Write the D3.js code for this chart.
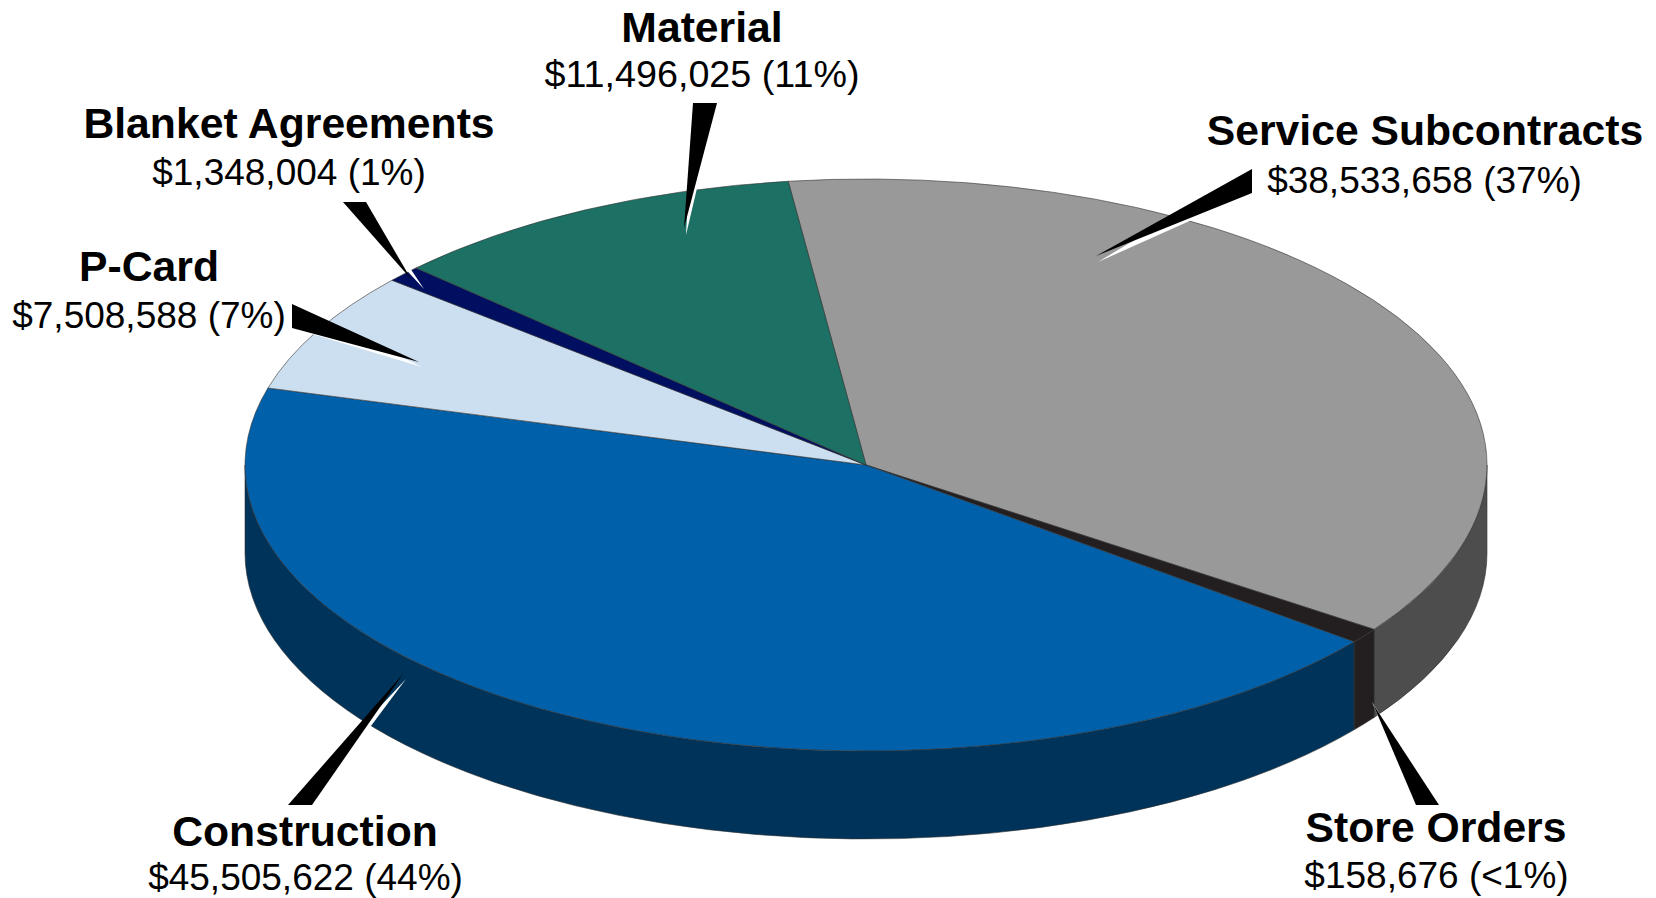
<!DOCTYPE html>
<html>
<head>
<meta charset="utf-8">
<script src="https://cdn.jsdelivr.net/npm/d3@7"></script>
<style>
  html, body { margin: 0; padding: 0; background: #fff; }
  svg { display: block; }
  text { font-family: "Liberation Sans", Arial, sans-serif; fill: #000; text-anchor: middle; }
  .name { font-weight: bold; font-size: 42.7px; }
  .amount { font-size: 37px; }
</style>
</head>
<body>
<div id="chart"></div>
<script>
// clockwise from the Service / Material boundary
const categories = ["Service Subcontracts", "Store Orders", "Construction", "P-Card", "Blanket Agreements", "Material"];
const amounts = ["$38,533,658", "$158,676", "$45,505,622", "$7,508,588", "$1,348,004", "$11,496,025"];
const percents = ["37%", "<1%", "44%", "7%", "1%", "11%"];
// share of the drawn pie per slice, the thin slices are drawn wider than their amount
const drawnShares = [36.75, 0.86, 43.73, 6.84, 0.92, 10.9];

const topColors = ["#999999", "#231f20", "#0060a9", "#ccdff0", "#000f5f", "#1c7064"];
const sideColors = ["#4d4d4d", "#231f20", "#003359", "#8fa0b0", "#000a40", "#134e46"];

const width = 1656, height = 898;
const cx = 866, cy = 465, rx = 621, ry = 286, depth = 88;
const startAngle = -7.2 * Math.PI / 180;

// label anchors: name x/y, amount x/y
const labelSpots = [
    {x: 1425, y: 145, ax: 1424.5, ay: 193},
    {x: 1436, y: 842, ax: 1436.5, ay: 888},
    {x: 305, y: 846, ax: 305.5, ay: 889.5},
    {x: 149, y: 281, ax: 149, ay: 328},
    {x: 289, y: 138, ax: 289, ay: 185},
    {x: 702, y: 42, ax: 702, ay: 87, size: 37.7}
];
// pointer wedges: base corners, black tip, white tip
const wedges = [
    {base: [[1252, 169], [1252, 193]], tip: [1096, 256], shine: [1098, 262]},
    {base: [[1416, 805], [1439, 805]], tip: [1373, 704], shine: [1372, 702]},
    {base: [[288, 805], [312, 805]], tip: [403, 674], shine: [406, 679]},
    {base: [[292, 304], [292, 328]], tip: [419, 362], shine: [422, 367]},
    {base: [[343, 202], [366, 202]], tip: [411, 279], shine: [424, 289]},
    {base: [[693, 103], [717, 103]], tip: [684, 228], shine: [686, 235]}
];

const svg = d3.select("#chart").append("svg")
    .attr("width", width)
    .attr("height", height);

const pie = d3.pie()
    .sort(null)
    .startAngle(startAngle)
    .endAngle(startAngle + 2 * Math.PI);
const slices = pie(drawnShares);

// d3 angles run clockwise from 12 o'clock
function rim(angle, drop) {
    return [cx + rx * Math.sin(angle), cy - ry * Math.cos(angle) + (drop || 0)];
}

// only the front half of the rim is visible
function wallPath(d) {
    const a0 = Math.max(d.startAngle, Math.PI / 2);
    const a1 = Math.min(d.endAngle, 3 * Math.PI / 2);
    if (a1 <= a0) return null;
    const t0 = rim(a0), t1 = rim(a1), b0 = rim(a0, depth), b1 = rim(a1, depth);
    return "M" + t0 + "A" + rx + "," + ry + " 0 0 1 " + t1 +
        "L" + b1 + "A" + rx + "," + ry + " 0 0 0 " + b0 + "Z";
}

svg.append("g")
    .selectAll("path")
    .data(slices)
    .join("path")
    .attr("d", wallPath)
    .attr("fill", (d, i) => sideColors[i])
    .attr("stroke", "#333")
    .attr("stroke-width", 0.6);

const arc = d3.arc().innerRadius(0).outerRadius(rx);

svg.append("g")
    .attr("transform", "translate(" + cx + "," + cy + ") scale(1," + (ry / rx) + ")")
    .selectAll("path")
    .data(slices)
    .join("path")
    .attr("d", arc)
    .attr("fill", (d, i) => topColors[i])
    .attr("stroke", "#333")
    .attr("stroke-width", 0.6)
    .attr("vector-effect", "non-scaling-stroke");

// pointers, white wedge first so it shows as a sliver under the black one
const pointers = svg.append("g");
pointers.selectAll(".shine")
    .data(wedges)
    .join("polygon")
    .attr("class", "shine")
    .attr("fill", "#fff")
    .attr("points", d => [d.base[0], d.base[1], d.shine].join(" "));
pointers.selectAll(".wedge")
    .data(wedges)
    .join("polygon")
    .attr("class", "wedge")
    .attr("fill", "#000")
    .attr("points", d => [d.base[0], d.base[1], d.tip].join(" "));

const labels = svg.append("g")
    .selectAll("g")
    .data(categories)
    .join("g");

labels.append("text")
    .attr("class", "name")
    .attr("x", (d, i) => labelSpots[i].x)
    .attr("y", (d, i) => labelSpots[i].y)
    .text(d => d);

labels.append("text")
    .attr("class", "amount")
    .attr("x", (d, i) => labelSpots[i].ax)
    .attr("y", (d, i) => labelSpots[i].ay)
    .style("font-size", (d, i) => labelSpots[i].size ? labelSpots[i].size + "px" : null)
    .text((d, i) => amounts[i] + " (" + percents[i] + ")");
</script>
</body>
</html>
